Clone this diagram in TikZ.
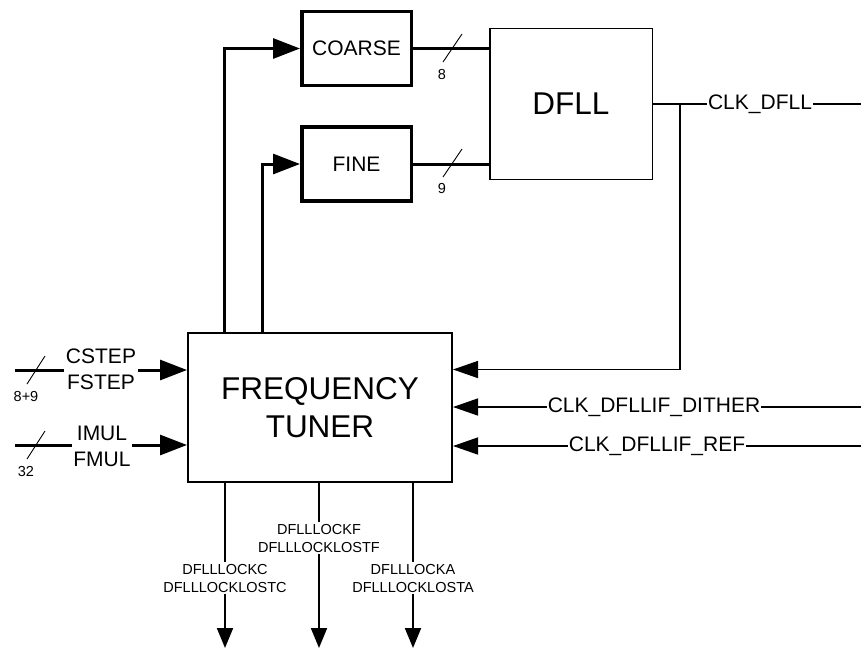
\documentclass[tikz,border=0pt]{standalone}
\usepackage{fontspec}
\setmainfont{Liberation Sans}
\usetikzlibrary{arrows.meta}
\begin{document}
\begin{tikzpicture}[x=1pt,y=-1pt,
  thickbox/.style={draw, line width=3.5pt, minimum width=109.5pt, minimum height=74pt, inner sep=0pt, font=\fontsize{21}{25}\selectfont},
  bigbox/.style={draw, inner sep=0pt, align=center, font=\fontsize{31.5}{38}\selectfont},
  lbl/.style={fill=white, inner xsep=1.5pt, inner ysep=0pt, align=center, font=\fontsize{21}{26}\selectfont},
  smalllbl/.style={fill=white, inner xsep=1pt, inner ysep=2pt, align=center, font=\fontsize{14.5}{18}\selectfont},
  buslbl/.style={inner sep=0pt, font=\fontsize{14.5}{17}\selectfont},
  busslash/.style={line width=0.9pt},
  bigarrow/.style={-{Triangle[length=27pt,width=20pt]}, line width=3pt},
  medarrow/.style={-{Triangle[length=25pt,width=17pt]}, line width=1.5pt},
  smallarrow/.style={-{Triangle[length=20pt,width=16pt]}, line width=2pt},
]
\useasboundingbox (0,0) rectangle (861,649);

% blocks
\node[thickbox] (coarse) at (356.5,48.5) {COARSE};
\node[thickbox] (fine) at (356.5,164) {FINE};
\node[bigbox, line width=1.5pt, minimum width=162.5pt, minimum height=151pt] (dfll) at (571,104) {DFLL};
\node[bigbox, line width=2pt, minimum width=264pt, minimum height=149pt] (ft) at (320,407.5) {FREQUENCY\\TUNER};

% tuner -> coarse / fine
\draw[bigarrow] ([xshift=-96pt]ft.north) |- (coarse.west);
\draw[bigarrow] ([xshift=-58pt]ft.north) |- (fine.west);

% coarse / fine -> dfll
\draw[line width=3pt] (coarse.east) -- (coarse.east -| dfll.west);
\draw[line width=3pt] (fine.east) -- (fine.east -| dfll.west);
\coordinate (sc1) at (443,62); \coordinate (sc2) at (462,34);
\draw[busslash] (sc1) -- (sc2);
\node[buslbl] (nc) at (442,75) {8};
\coordinate (sf1) at (443,177); \coordinate (sf2) at (462,149);
\draw[busslash] (sf1) -- (sf2);
\node[buslbl] (nf) at (442,189) {9};

% dfll output and feedback
\coordinate (tap) at (680,104);
\coordinate (clkend) at (861,104);
\draw[line width=2pt] (dfll.east) -- (tap);
\draw[line width=1.5pt] (tap) -- (clkend);
\draw[medarrow] (tap) |- ([yshift=38pt]ft.east);
\node[lbl, inner xsep=1pt] (clkdfll) at (760,104) {CLK\_DFLL};

% right clock inputs
\coordinate (dith) at (861,407);
\coordinate (ref) at (861,446);
\draw[medarrow] (dith) -- (dith -| ft.east);
\draw[medarrow] (ref) -- (ref -| ft.east);
\node[lbl, inner xsep=1pt] (ldith) at (654,407) {CLK\_DFLLIF\_DITHER};
\node[lbl, inner xsep=1pt] (lref) at (657,446) {CLK\_DFLLIF\_REF};

% left inputs
\coordinate (cs) at (15,370);
\coordinate (im) at (15,445);
\draw[bigarrow] (cs) -- (cs -| ft.west);
\draw[bigarrow] (im) -- (im -| ft.west);
\node[lbl] (lcs) at (101,369) {CSTEP\\FSTEP};
\node[lbl] (lim) at (102,446) {IMUL\\FMUL};
\coordinate (s1a) at (27,384); \coordinate (s1b) at (45,356);
\draw[busslash] (s1a) -- (s1b);
\node[buslbl] (n89) at (26,396) {8+9};
\coordinate (s2a) at (27,459); \coordinate (s2b) at (45,431);
\draw[busslash] (s2a) -- (s2b);
\node[buslbl] (n32) at (26,471) {32};

% bottom outputs
\coordinate (oc) at (225,648);
\coordinate (of) at (319,648);
\coordinate (oa) at (413,648);
\draw[smallarrow] (oc |- ft.south) -- (oc);
\draw[smallarrow] (of |- ft.south) -- (of);
\draw[smallarrow] (oa |- ft.south) -- (oa);
\node[smalllbl] (lc) at (225,578) {DFLLLOCKC\\DFLLLOCKLOSTC};
\node[smalllbl] (lf) at (319,538) {DFLLLOCKF\\DFLLLOCKLOSTF};
\node[smalllbl] (la) at (413,578) {DFLLLOCKA\\DFLLLOCKLOSTA};
\end{tikzpicture}
\end{document}
